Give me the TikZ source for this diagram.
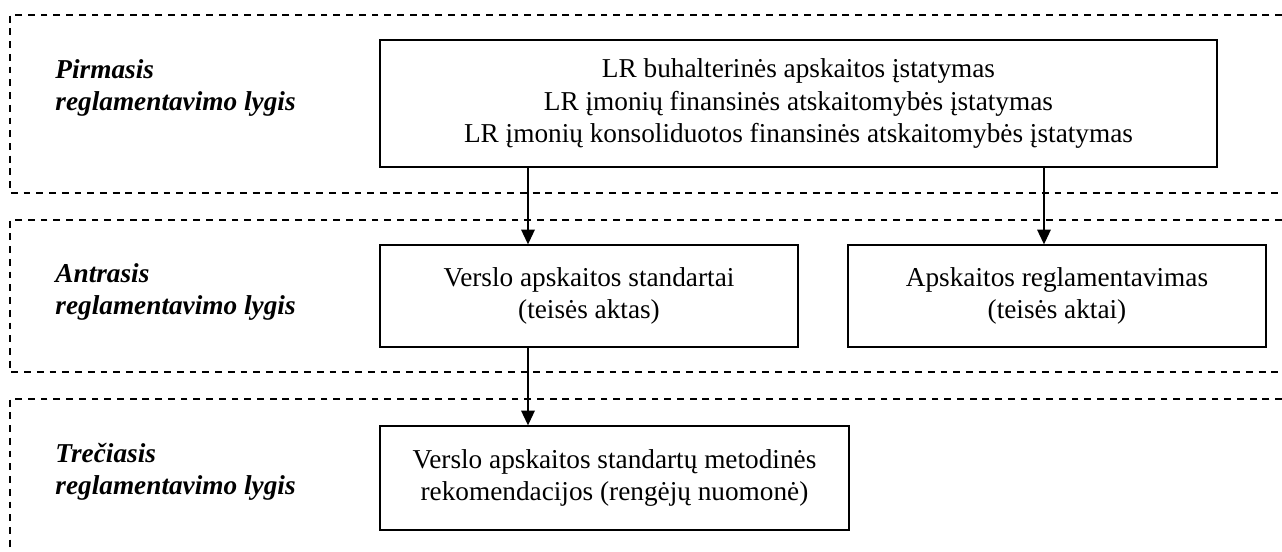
\documentclass[tikz,border=0pt]{standalone}
\usepackage{fontspec}
\setmainfont{Liberation Serif}
\usepackage{tikz}
\usetikzlibrary{positioning,calc,arrows.meta}

\tikzset{
    txt/.style={font=\fontsize{12}{14.2}\selectfont},
    box/.style={txt, draw, line width=0.6pt, align=center, inner sep=0pt},
    lvl/.style={txt, font=\fontsize{12}{14}\selectfont\bfseries\itshape, align=left, anchor=west, inner sep=0pt},
    band/.style={line width=0.8pt, dash pattern=on 3pt off 2.6pt},
    arr/.style={line width=0.6pt, -{Triangle[length=6.5pt,width=6pt]}}
}

\begin{document}
\begin{tikzpicture}[x=0.44pt, y=-0.44pt]
    \useasboundingbox (0,0) rectangle (1282,551);

    % Levels (dashed bands)
    \foreach \t/\b in {15/193, 220/372}
        \draw[band] (1282,\t) -- (10,\t) -- (10,\b) -- (1282,\b);
    \draw[band] (1282,399) -- (10,399) -- (10,551);

    % Level labels
    \node[lvl] (l1) at (55,88) {Pirmasis\\reglamentavimo lygis};
    \node[lvl] (l2) at (55,292) {Antrasis\\reglamentavimo lygis};
    \node[lvl] (l3) at (55,472) {Trečiasis\\reglamentavimo lygis};

    % Boxes
    \node[box, minimum width={837*0.44pt}, minimum height={127*0.44pt}] (law) at (798.5,103.5)
        {LR buhalterinės apskaitos įstatymas\\LR įmonių finansinės atskaitomybės įstatymas\\LR įmonių konsoliduotos finansinės atskaitomybės įstatymas};
    \node[box, minimum width={418*0.44pt}, minimum height={102*0.44pt}] (vas) at (589,296)
        {Verslo apskaitos standartai\\(teisės aktas)};
    \node[box, minimum width={418*0.44pt}, minimum height={102*0.44pt}] (reg) at (1057,296)
        {Apskaitos reglamentavimas\\(teisės aktai)};
    \node[box, minimum width={469*0.44pt}, minimum height={104*0.44pt}] (rek) at (614.5,478)
        {Verslo apskaitos standartų metodinės\\rekomendacijos (rengėjų nuomonė)};

    % Arrows
    \coordinate (c1) at (528,0);
    \coordinate (c2) at (1044,0);
    \draw[arr] (law.south -| c1) -- (vas.north -| c1);
    \draw[arr] (law.south -| c2) -- (reg.north -| c2);
    \draw[arr] (vas.south -| c1) -- (rek.north -| c1);
\end{tikzpicture}
\end{document}
